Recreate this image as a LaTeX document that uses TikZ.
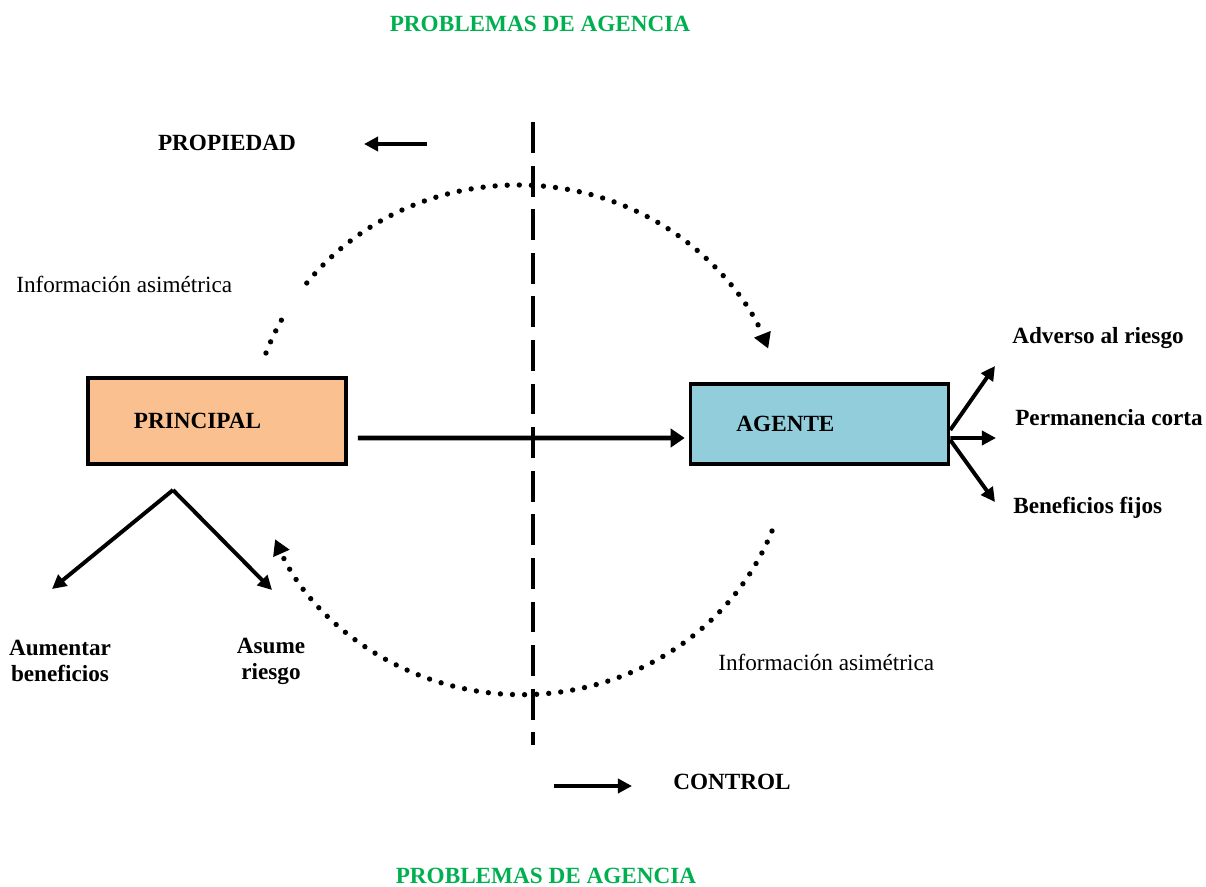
\documentclass[tikz,border=0pt]{standalone}
\usepackage{fontspec}
\setmainfont{Liberation Serif}
\usetikzlibrary{arrows.meta}
\definecolor{peach}{RGB}{250,192,143}
\definecolor{aqua}{RGB}{146,205,220}
\definecolor{agencygreen}{RGB}{0,176,80}

\begin{document}
\begin{tikzpicture}[x=0.025cm, y=-0.025cm,
        every node/.style={inner sep=0pt, font=\fontsize{16.5}{18.5}\selectfont},
        lbl/.style={font=\fontsize{16.5}{18.5}\selectfont\bfseries, align=center},
        box/.style={rectangle, draw, line width=2.5pt, align=left, inner xsep=1.15cm, text width=4.15cm, font=\fontsize{16.5}{18.5}\selectfont\bfseries},
        arr/.style={line width=2.8pt, -{Triangle[length=10pt, width=10pt]}},
        dots/.style={line width=3.8pt, line cap=round, dash pattern=on 0pt off 8.6pt},
        dotarrow/.style={-{Triangle[length=11pt, width=12pt]}}]
        \useasboundingbox (0,0) rectangle (1206,887);

        % Nodes
        \node (titletop) [lbl, text=agencygreen] at (540,24) {PROBLEMAS DE AGENCIA};
        \node (titlebot) [lbl, text=agencygreen] at (546,876) {PROBLEMAS DE AGENCIA};
        \node (propiedad) [lbl] at (227,143) {PROPIEDAD};
        \node (control) [lbl, anchor=west] at (673,782) {CONTROL};
        \node (infoa) [anchor=west] at (16,284) {Información asimétrica};
        \node (infob) [anchor=west] at (718,662) {Información asimétrica};
        \node (principal) [box, fill=peach, minimum height=2.15cm] at (217,421) {PRINCIPAL};
        \node (agente) [box, fill=aqua, minimum height=2cm] at (819.5,424) {AGENTE};
        \node (adverso) [lbl, anchor=west] at (1012,338) {Adverso al riesgo};
        \node (permanencia) [lbl, anchor=west] at (1015,418) {Permanencia corta};
        \node (fijos) [lbl, anchor=west] at (1013,508) {Beneficios fijos};
        \node (aumentar) [lbl] at (60,661) {Aumentar\\beneficios};
        \node (asume) [lbl] at (271,661) {Asume\\riesgo};

        % Free ends
        \coordinate (cuttop) at (533,122);
        \coordinate (cutbot) at (533,745);
        \coordinate (propiedadstart) at (427,144);
        \coordinate (propiedadend) at (364,144);
        \coordinate (controlstart) at (554,786);
        \coordinate (controlend) at (632,786);
        \coordinate (apex) at (173,490);
        \coordinate (aumentarend) at (52,589);
        \coordinate (asumeend) at (272,590);
        \coordinate (adversoend) at (995,366);
        \coordinate (permanenciaend) at (996,438);
        \coordinate (fijosend) at (995,502);
        \coordinate (ia1) at (266,353);
        \coordinate (ia2) at (306.8,283);
        \coordinate (ib) at (772,531);

        % Edges
        \draw [line width=2.8pt, dash pattern=on 22pt off 9pt] (cuttop) -- (cutbot);
        \draw [line width=3.3pt, -{Triangle[length=10pt, width=13pt]}, shorten <=0.25cm, shorten >=0.1cm]
            ([yshift=-0.425cm]principal.east) -- ([yshift=-0.35cm]agente.west);
        \draw [arr] (propiedadstart) -- (propiedadend);
        \draw [arr] (controlstart) -- (controlend);
        \draw [arr] (apex) -- (aumentarend);
        \draw [arr] (apex) -- (asumeend);
        \draw [arr] ([yshift=-0.15cm]agente.east) -- (adversoend);
        \draw [arr] ([yshift=-0.35cm]agente.east) -- (permanenciaend);
        \draw [arr] ([yshift=-0.4cm]agente.east) -- (fijosend);

        % Asymmetric information
        \draw [dots] (ia1) arc[start angle=-160, end angle=-150, x radius=268, y radius=255];
        \draw [dots, dotarrow] (ia2) arc[start angle=-142, end angle=-21, x radius=268, y radius=255];
        \draw [dots, dotarrow] (ib) arc[start angle=21, end angle=157, x radius=268, y radius=255];

    \end{tikzpicture}
\end{document}
